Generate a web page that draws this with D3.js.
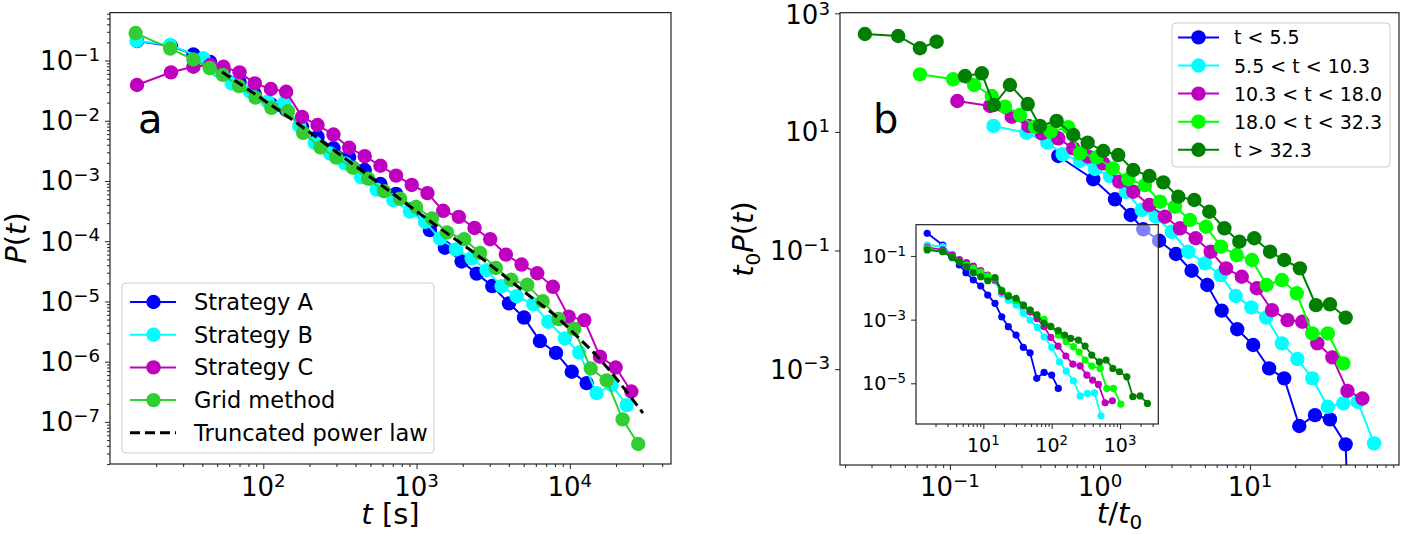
<!DOCTYPE html>
<html>
<head>
<meta charset="utf-8">
<script src="https://d3js.org/d3.v7.min.js"></script>
<style>
  body { margin: 0; background: #fff; }
  svg { font-family: "DejaVu Sans", sans-serif; }
</style>
</head>
<body>
<script>
// ---------- panel a : [t (s), P(t)] ----------
var stratA = [
  [15, 0.211], [25, 0.174], [35, 0.126], [45, 0.0944], [55, 0.067], [70, 0.044],
  [88, 0.0278], [112, 0.0189], [141, 0.0151], [179, 7.9e-3], [226, 5.4e-3], [287, 3.5e-3],
  [363, 2.5e-3], [459, 1.52e-3], [581, 8.9e-4], [735, 6.1e-4], [930, 3.4e-4], [1222, 1.53e-4],
  [1531, 7.8e-5], [1968, 4.6e-5], [2466, 2.9e-5], [3119, 1.8e-5], [4008, 9.3e-6], [5023, 5.4e-6],
  [6383, 2.2e-6], [8128, 1.4e-6], [10290, 6.8e-7], [12880, 4.4e-7]
];
var stratB = [
  [14.9, 0.213], [24.6, 0.181], [40.6, 0.109], [49.9, 0.0695], [62.2, 0.0418], [81.9, 0.0303],
  [107, 0.0207], [137, 0.0199], [172, 8.2e-3], [217, 4.3e-3], [272, 2.87e-3], [341, 1.96e-3],
  [434, 1.16e-3], [549, 7.2e-4], [705, 4.8e-4], [906, 3.1e-4], [1135, 2.1e-4], [1422, 1.11e-4],
  [1808, 7.3e-5], [2288, 5.2e-5], [2866, 3.3e-5], [3589, 1.79e-5], [4497, 1.22e-5], [5772, 9.0e-6],
  [7228, 4.6e-6], [9290, 2.43e-6], [11510, 1.42e-6], [14950, 3.0e-7], [18740, 4.1e-7], [23490, 1.9e-7]
];
var stratC = [
  [15, 0.0392], [25, 0.0637], [35, 0.0789], [45, 0.0841], [55, 0.0789], [70, 0.0637],
  [88, 0.0418], [112, 0.0337], [141, 0.0303], [179, 0.0116], [226, 8.5e-3], [287, 5.9e-3],
  [363, 3.56e-3], [459, 2.58e-3], [581, 1.79e-3], [735, 1.23e-3], [930, 8.6e-4], [1178, 6.3e-4],
  [1491, 3.2e-4], [1887, 2.54e-4], [2388, 1.66e-4], [3022, 1.08e-4], [3825, 6.0e-5], [4842, 4.1e-5],
  [6128, 2.94e-5], [7756, 1.75e-5], [9817, 5.6e-6], [12424, 4.9e-6], [15725, 1.21e-6], [19902, 8.0e-7],
  [25190, 3.2e-7]
];
var gridMethod = [
  [14.7, 0.286], [24.7, 0.158], [35, 0.104], [44.7, 0.075], [54.5, 0.0578], [69.5, 0.0376],
  [89.1, 0.0242], [113, 0.0164], [145, 0.0144], [182, 6.3e-3], [236, 3.6e-3], [299, 2.45e-3],
  [384, 1.66e-3], [484, 1.09e-3], [614, 6.75e-4], [780, 5.1e-4], [993, 3.7e-4], [1262, 2.38e-4],
  [1578, 1.40e-4], [2046, 1.08e-4], [2594, 6.4e-5], [3289, 3.6e-5], [4150, 2.29e-5], [5272, 1.89e-5],
  [6653, 1.01e-5], [8453, 5.1e-6], [10670, 3.5e-6], [13680, 7.7e-7], [17380, 4.9e-7], [22080, 1.1e-7],
  [27930, 4.3e-8]
];
var powerLaw = [
  [53.8, 0.0644], [92.3, 0.0257], [173, 8.5e-3], [294, 3.14e-3], [577, 8.9e-4], [1222, 2.16e-4],
  [2594, 5.45e-5], [5495, 1.22e-5], [8241, 5.5e-6], [11120, 2.65e-6], [15700, 1.10e-6],
  [21230, 4.4e-7], [30000, 1.40e-7]
];
var labelsA = ["Strategy A", "Strategy B", "Strategy C", "Grid method", "Truncated power law"];
var colorsA = ["#0000ff", "#00ffff", "#bf00bf", "#32cd32", "#000000"];

// ---------- panel b : [t/t0, t0 P(t)] ----------
var tUnder55 = [
  [0.527, 3.93], [0.902, 1.59], [1.259, 0.730], [1.603, 0.397], [1.945, 0.228], [2.48, 0.146],
  [3.21, 0.0873], [4.08, 0.0456], [5.19, 0.0262], [6.47, 9.7e-3], [8.22, 4.7e-3], [10.5, 2.55e-3],
  [13.4, 1.03e-3], [16.9, 7.0e-4], [21.3, 1.10e-4], [27.1, 1.68e-4], [34.1, 1.42e-4], [43.4, 5.4e-5],
  [55, 1e-12]
];
var t55to103 = [
  [0.195, 12.6], [0.324, 9.70], [0.446, 6.58], [0.564, 4.19], [0.736, 3.23], [0.927, 2.37],
  [1.166, 1.80], [1.49, 0.970], [1.897, 0.482], [2.36, 0.372], [3.006, 0.207], [3.88, 0.0955],
  [5.01, 0.0608], [6.38, 0.0386], [8.03, 0.0171], [10.2, 0.0110], [12.8, 7.4e-3], [16.3, 2.72e-3],
  [20.7, 1.48e-3], [26.0, 7.0e-4], [33.0, 2.32e-4], [41.9, 2.65e-4], [52.2, 2.82e-4], [67.1, 5.6e-5]
];
var t103to180 = [
  [0.112, 33.2], [0.185, 27.4], [0.258, 18.0], [0.333, 12.6], [0.409, 9.46], [0.527, 7.80],
  [0.664, 5.29], [0.836, 3.82], [1.052, 2.95], [1.345, 1.45], [1.667, 0.982], [2.133, 0.585],
  [2.71, 0.372], [3.412, 0.237], [4.345, 0.161], [5.47, 0.0955], [6.92, 0.0501], [8.81, 0.0361],
  [11.1, 0.0231], [14.0, 9.9e-3], [17.8, 6.7e-3], [22.3, 6.3e-3], [28.1, 2.72e-3], [35.4, 1.58e-3],
  [44.6, 4.3e-4], [56.1, 3.2e-4]
];
var t180to323 = [
  [0.0631, 93.5], [0.105, 77.1], [0.145, 61.8], [0.190, 40.3], [0.233, 26.6], [0.293, 19.3],
  [0.369, 12.2], [0.469, 10.1], [0.615, 12.0], [0.736, 4.36], [0.951, 3.73], [1.216, 2.43],
  [1.545, 1.59], [1.995, 1.27], [2.512, 0.666], [3.162, 0.548], [3.981, 0.327], [5.09, 0.252],
  [6.41, 0.116], [8.15, 0.0839], [10.3, 0.0692], [12.9, 0.0262], [16.3, 0.0318], [20.5, 0.0190],
  [26.0, 4.0e-3], [33.0, 4.0e-3], [41.9, 1.25e-3]
];
var tOver323 = [
  [0.0271, 448], [0.0452, 414], [0.0631, 257], [0.0815, 332], [0.1, null],
  [0.126, 87.7], [0.163, 97.3], [0.196, 28.4], [0.251, 61.8], [0.330, 29.5], [0.398, 12.6],
  [0.514, 15.3], [0.664, 8.87], [0.828, 6.58], [1.052, 4.76], [1.324, 4.07], [1.667, 2.28],
  [2.133, 1.80], [2.642, 1.41], [3.327, 0.807], [4.253, 0.711], [5.354, 0.451], [6.745, 0.237],
  [8.49, 0.141], [10.68, 0.161], [13.6, 0.0955], [16.9, 0.0692], [21.5, 0.0501], [27.5, 0.0120],
  [34.1, 0.0124], [43.4, 7.4e-3]
];
var labelsB = ["t < 5.5", "5.5 < t < 10.3", "10.3 < t < 18.0", "18.0 < t < 32.3", "t > 32.3"];
var colorsB = ["#0000ff", "#00ffff", "#bf00bf", "#00ff00", "#008000"];

// ---------- inset of panel b ----------
var inUnder55 = [
  [1.51, 0.518], [2.55, 0.222], [3.44, 0.095], [4.46, 0.0521], [5.58, 0.0299], [7.14, 0.0176],
  [9.16, 0.0114], [11.6, 5.9e-3], [14.8, 3.26e-3], [18.6, 1.23e-3], [23.2, 6.0e-4], [30.1, 3.28e-4],
  [38.5, 1.35e-4], [48.3, 9.1e-5], [60.5, 1.43e-5], [77.4, 2.2e-5], [100, 1.81e-5], [125, 6.9e-6]
];
var in55to103 = [
  [1.51, 0.222], [2.55, 0.196], [3.52, 0.113], [4.56, 0.0662], [5.71, 0.0589], [7.31, 0.041],
  [9.16, 0.0307], [11.6, 0.0235], [14.8, 0.0164], [18.6, 6.4e-3], [23.2, 4.1e-3], [30.1, 2.88e-3],
  [38.5, 1.58e-3], [48.3, 9.7e-4], [61.8, 5.7e-4], [77.4, 2.9e-4], [100, 1.35e-4], [130, 4.7e-5],
  [163, 2.4e-5], [208, 1.2e-5], [261, 4.0e-6], [333, 4.8e-6], [422, 5.0e-6], [528, 9.5e-7]
];
var in103to180 = [
  [1.51, 0.188], [2.55, 0.155], [3.52, 0.107], [4.49, 0.0776], [5.68, 0.0625], [7.14, 0.0485],
  [9.16, 0.035], [11.6, 0.0253], [14.8, 0.0176], [18.6, 7.5e-3], [23.2, 5.5e-3], [30.1, 4.1e-3],
  [38.5, 2.68e-3], [48.3, 1.73e-3], [61.1, 1.08e-3], [77.4, 6.0e-4], [97, 2.77e-4], [124, 1.48e-4],
  [161, 7.2e-5], [204, 4.0e-5], [261, 3.5e-5], [327, 1.81e-5], [397, 1.26e-5], [483, 9.2e-6],
  [605, 2.44e-6], [774, 2.82e-6]
];
var in180to323 = [
  [1.51, 0.175], [2.55, 0.136], [3.52, 0.091], [4.49, 0.0671], [5.68, 0.0521], [7.14, 0.042],
  [9.16, 0.0314], [11.6, 0.0235], [14.8, 0.0199], [18.6, 8.5e-3], [23.2, 5.9e-3], [30.1, 4.1e-3],
  [38.5, 2.88e-3], [48.3, 2.0e-3], [61.1, 1.45e-3], [77.4, 1.02e-3], [97, 6.3e-4], [125, 3.28e-4],
  [163, 2.02e-4], [208, 1.41e-4], [252, 9.6e-5], [308, 5.4e-5], [386, 3.48e-5], [512, 2.94e-5],
  [641, 6.9e-6], [800, 6.9e-6], [1028, 2.22e-6]
];
var inOver323 = [
  [1.51, 0.155], [2.55, 0.136], [3.52, 0.0885], [4.46, 0.0662], [5.71, 0.0461], [7.14, 0.0299],
  [9.16, 0.0223], [11.6, 0.0167], [14.8, 0.0208], [18.6, 8.1e-3], [23.2, 5.5e-3], [30.1, 4.7e-3],
  [38.5, 2.88e-3], [48.3, 2.0e-3], [60.5, 1.40e-3], [77.4, 7.7e-4], [97, 6.0e-4], [125, 4.5e-4],
  [155, 3.28e-4], [190, 2.58e-4], [246, 2.28e-4], [308, 1.48e-4], [386, 7.7e-5], [499, 4.7e-5],
  [625, 5.4e-5], [785, 2.94e-5], [980, 2.3e-5], [1259, 1.6e-5], [1540, 3.8e-6], [1968, 4.0e-6],
  [2518, 2.33e-6]
];

// tick exponents
var expAx = [2, 3, 4], expAy = [-1, -2, -3, -4, -5, -6, -7];
var expBx = [-1, 0, 1], expBy = [3, 1, -1, -3];
var expIx = [1, 2, 3], expIy = [-1, -3, -5];

var width = 1401, height = 534;
var svg = d3.select("body").append("svg")
    .attr("width", width)
    .attr("height", height);

var xA = d3.scaleLog().domain([10, 45700]).range([110, 671]);
var yA = d3.scaleLog().domain([0.625, 2.0e-8]).range([12.6, 464]);
var xB = d3.scaleLog().domain([0.0185, 98.4]).range([840, 1399]);
var yB = d3.scaleLog().domain([1023, 2.42e-5]).range([12.7, 465]);
var xI = d3.scaleLog().domain([1.035, 3631]).range([916, 1158.3]);
var yI = d3.scaleLog().domain([0.964, 5.25e-7]).range([224.7, 424]);

var logMinors = function(scale)
{
    var d = scale.domain(), lo = Math.min(d[0], d[1]), hi = Math.max(d[0], d[1]);
    var out = [];
    for (var e = Math.floor(Math.log10(lo)); e <= Math.ceil(Math.log10(hi)); e++)
        for (var k = 2; k < 10; k++)
        {
            var v = k * Math.pow(10, e);
            if (v >= lo && v <= hi) out.push(v);
        }
    return out;
}

var powLabel = function(g, x, y, exp, size, anchor)
{
    var t = g.append("text")
        .attr("x", x).attr("y", y)
        .attr("font-size", size)
        .attr("text-anchor", anchor)
        .attr("fill", "#000");
    t.append("tspan").text("10");
    t.append("tspan")
        .attr("dy", -0.36 * size)
        .attr("font-size", 0.7 * size)
        .text(exp < 0 ? "\u2212" + (-exp) : "" + exp);
}

var drawAxes = function(g, xs, ys, o)
{
    var x0 = xs.range()[0], x1 = xs.range()[1];
    var y0 = ys.range()[0], y1 = ys.range()[1];
    var clean = function(a) { a.select(".domain").remove(); a.selectAll("line").attr("stroke-width", 1.1); };

    g.append("g").attr("transform", "translate(0," + y1 + ")").attr("color", "#333")
        .call(d3.axisBottom(xs).tickValues(logMinors(xs)).tickSize(3).tickFormat(""))
        .call(clean);
    g.append("g").attr("transform", "translate(0," + y1 + ")").attr("color", "#333")
        .call(d3.axisBottom(xs).tickValues(o.xExp.map(function(e) { return Math.pow(10, e); })).tickSize(5).tickFormat(""))
        .call(clean);
    if (o.yMinor)
        g.append("g").attr("transform", "translate(" + x0 + ",0)").attr("color", "#333")
            .call(d3.axisLeft(ys).tickValues(logMinors(ys)).tickSize(3).tickFormat(""))
            .call(clean);
    g.append("g").attr("transform", "translate(" + x0 + ",0)").attr("color", "#333")
        .call(d3.axisLeft(ys).tickValues(o.yExp.map(function(e) { return Math.pow(10, e); })).tickSize(5).tickFormat(""))
        .call(clean);

    g.append("rect")
        .attr("x", x0).attr("y", y0)
        .attr("width", x1 - x0).attr("height", y1 - y0)
        .attr("fill", "none")
        .attr("stroke", "#222")
        .attr("stroke-width", 1.2);

    o.xExp.forEach(function(e)
    {
        powLabel(g, xs(Math.pow(10, e)), o.xLabelY, e, o.font, "middle");
    });
    o.yExp.forEach(function(e)
    {
        var y = ys(Math.pow(10, e)) + o.yShift;
        powLabel(g, x0 - 10, Math.max(y, o.minY || 0), e, o.font, "end");
    });
}

var drawSeries = function(g, data, color, xs, ys, r, lw)
{
    var line = d3.line()
        .defined(function(d) { return d[1] != null; })
        .x(function(d) { return xs(d[0]); })
        .y(function(d) { return ys(d[1]); });
    g.append("path")
        .datum(data)
        .attr("d", line)
        .attr("fill", "none")
        .attr("stroke", color)
        .attr("stroke-width", lw);
    g.selectAll(null)
        .data(data.filter(function(d) { return d[1] != null; }))
        .enter()
        .append("circle")
        .attr("cx", function(d) { return xs(d[0]); })
        .attr("cy", function(d) { return ys(d[1]); })
        .attr("r", r)
        .attr("fill", color);
}

// ================= panel a =================
var ga = svg.append("g");
[stratA, stratB, stratC, gridMethod].forEach(function(s, i)
{
    drawSeries(ga, s, colorsA[i], xA, yA, 7.2, 2);
});
ga.append("path")
    .datum(powerLaw)
    .attr("d", d3.line()
        .x(function(d) { return xA(d[0]); })
        .y(function(d) { return yA(d[1]); })
        .curve(d3.curveMonotoneX))
    .attr("fill", "none")
    .attr("stroke", "#000")
    .attr("stroke-width", 3)
    .attr("stroke-dasharray", "10,5");

drawAxes(ga, xA, yA, { xExp: expAx, yExp: expAy, yMinor: true, xLabelY: 496, yShift: 9.5, font: 26 });

ga.append("text").attr("x", 138).attr("y", 133).attr("font-size", 40).text("a");

// legend a
var la = ga.append("g");
la.append("rect")
    .attr("x", 122).attr("y", 283)
    .attr("width", 312).attr("height", 170)
    .attr("rx", 4)
    .attr("fill", "#fff").attr("fill-opacity", 0.8)
    .attr("stroke", "#cccccc");
labelsA.forEach(function(lab, i)
{
    var y = 302 + i * 32.7;
    var ln = la.append("line")
        .attr("x1", 130).attr("x2", 176)
        .attr("y1", y).attr("y2", y)
        .attr("stroke", colorsA[i]);
    if (i == 4)
        ln.attr("stroke-width", 3).attr("stroke-dasharray", "10,5");
    else
    {
        ln.attr("stroke-width", 2);
        la.append("circle").attr("cx", 153.5).attr("cy", y).attr("r", 7.2).attr("fill", colorsA[i]);
    }
    la.append("text").attr("x", 194).attr("y", y + 8).attr("font-size", 22.5).text(lab);
});

// axis labels a
var xlabA = ga.append("text").attr("x", 390.5).attr("y", 524).attr("font-size", 29).attr("text-anchor", "middle");
xlabA.append("tspan").attr("font-style", "italic").text("t");
xlabA.append("tspan").text(" [s]");

var ylabA = ga.append("text").attr("transform", "translate(26,238) rotate(-90)").attr("font-size", 29).attr("text-anchor", "middle");
ylabA.append("tspan").attr("font-style", "italic").text("P");
ylabA.append("tspan").text("(");
ylabA.append("tspan").attr("font-style", "italic").text("t");
ylabA.append("tspan").text(")");

// ================= panel b =================
var gb = svg.append("g");
gb.append("clipPath").attr("id", "clipB")
    .append("rect")
    .attr("x", 840).attr("y", 12.7)
    .attr("width", 559).attr("height", 452.3);
var plotB = gb.append("g").attr("clip-path", "url(#clipB)");
[tUnder55, t55to103, t103to180, t180to323, tOver323].forEach(function(s, i)
{
    drawSeries(plotB, s, colorsB[i], xB, yB, 7.2, 2);
});

drawAxes(gb, xB, yB, { xExp: expBx, yExp: expBy, yMinor: false, xLabelY: 496, yShift: 9.5, font: 26, minY: 24 });

gb.append("text").attr("x", 873).attr("y", 132.7).attr("font-size", 40).text("b");

// inset
var gi = gb.append("g");
gi.append("rect")
    .attr("x", 916).attr("y", 224.7)
    .attr("width", 242.3).attr("height", 199.3)
    .attr("fill", "#fff").attr("fill-opacity", 0.5);
[inUnder55, in55to103, in103to180, in180to323, inOver323].forEach(function(s, i)
{
    drawSeries(gi, s, colorsB[i], xI, yI, 3.6, 1.8);
});
drawAxes(gi, xI, yI, { xExp: expIx, yExp: expIy, yMinor: false, xLabelY: 451.5, yShift: 7, font: 19 });

// legend b
var lb = gb.append("g");
lb.append("rect")
    .attr("x", 1172).attr("y", 23)
    .attr("width", 218).attr("height", 144)
    .attr("rx", 4)
    .attr("fill", "#fff").attr("fill-opacity", 0.8)
    .attr("stroke", "#cccccc");
labelsB.forEach(function(lab, i)
{
    var y = 37.4 + i * 28.1;
    lb.append("line")
        .attr("x1", 1178).attr("x2", 1219)
        .attr("y1", y).attr("y2", y)
        .attr("stroke", colorsB[i]).attr("stroke-width", 2);
    lb.append("circle").attr("cx", 1198.5).attr("cy", y).attr("r", 7.2).attr("fill", colorsB[i]);
    lb.append("text").attr("x", 1234).attr("y", y + 7).attr("font-size", 19).text(lab);
});

// axis labels b
var xlabB = gb.append("text").attr("x", 1119.5).attr("y", 523).attr("font-size", 29).attr("text-anchor", "middle");
xlabB.append("tspan").attr("font-style", "italic").text("t");
xlabB.append("tspan").text("/");
xlabB.append("tspan").attr("font-style", "italic").text("t");
xlabB.append("tspan").attr("dy", 5.5).attr("font-size", 20).text("0");

var ylabB = gb.append("text").attr("transform", "translate(753,239) rotate(-90)").attr("font-size", 29).attr("text-anchor", "middle");
ylabB.append("tspan").attr("font-style", "italic").text("t");
ylabB.append("tspan").attr("dy", 6.5).attr("font-size", 20).text("0");
ylabB.append("tspan").attr("dy", -6.5).attr("font-style", "italic").text("P");
ylabB.append("tspan").text("(");
ylabB.append("tspan").attr("font-style", "italic").text("t");
ylabB.append("tspan").text(")");
</script>
</body>
</html>
